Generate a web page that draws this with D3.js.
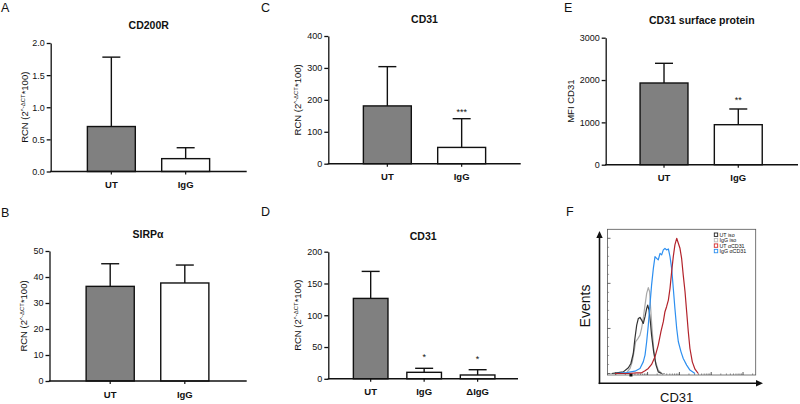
<!DOCTYPE html>
<html><head><meta charset="utf-8">
<script src="https://cdn.jsdelivr.net/npm/d3@7"></script>
<style>
html,body{margin:0;padding:0;background:#fff;}
svg{display:block;}
text{font-family:"Liberation Sans",Arial,sans-serif;fill:#111;}
</style></head>
<body>
<svg id="chart" width="800" height="404"></svg>
<script>
// ---------------- DATA ----------------
const catsA = ["UT", "IgG"];
const meanA = [0.70, 0.20];
const sdA = [1.08, 0.17];
const ticksA = [0, 0.5, 1.0, 1.5, 2.0];

const catsB = ["UT", "IgG"];
const meanB = [36.4, 37.7];
const sdB = [8.7, 6.9];
const ticksB = [0, 10, 20, 30, 40, 50];

const catsC = ["UT", "IgG"];
const meanC = [181, 51];
const sdC = [123, 90];
const starsC = ["", "***"];
const ticksC = [0, 100, 200, 300, 400];

const catsD = ["UT", "IgG", "\u0394IgG"];
const meanD = [126.5, 10.2, 6.0];
const sdD = [42.5, 6.3, 8.3];
const starsD = ["", "*", "*"];
const ticksD = [0, 50, 100, 150, 200];

const catsE = ["UT", "IgG"];
const meanE = [1930, 945];
const sdE = [465, 371];
const starsE = ["", "**"];
const ticksE = [0, 1000, 2000, 3000];

// Flow histograms (x: channel 0-100, y: % of max)
const histUTiso = [[2.2,0],[10.1,1.2],[13.5,4.2],[15.2,7.4],[16.8,14.8],[17.9,25.9],[19.1,35.8],[20.2,40.7],[21.3,41.5],[22.4,39.5],[23.5,37.0],[24.7,42.0],[25.8,48.1],[26.5,50.6],[27.4,46.9],[28.3,38.3],[29.1,28.4],[30.5,16.0],[32.1,6.2],[33.6,1.2],[35.9,0]];
const histIgGiso = [[3.4,0],[12.3,0.7],[14.6,3.7],[16.1,8.6],[17.5,17.3],[18.4,23.5],[19.7,25.4],[21.3,28.4],[22.4,33.3],[23.5,40.7],[24.7,50.6],[25.8,59.3],[26.9,63.5],[27.8,60.5],[28.5,48.1],[29.4,33.3],[30.5,18.5],[31.8,8.6],[33.6,2.5],[35.9,0],[38.1,0]];
const histIgGCD31 = [[4.5,0],[12.3,0.7],[17.9,1.7],[21.3,3.7],[23.5,8.6],[24.7,13.6],[25.8,23.5],[26.9,35.8],[28.0,50.6],[29.1,65.4],[30.3,77.8],[31.4,86.4],[32.5,85.2],[33.6,84.0],[34.8,88.9],[35.9,87.7],[37.0,91.4],[38.1,92.6],[39.2,91.4],[40.4,92.1],[41.5,86.4],[42.6,77.8],[43.7,63.0],[44.8,48.1],[46.0,33.3],[47.1,23.5],[48.9,16.0],[50.4,11.1],[52.7,6.2],[54.9,2.5],[58.3,0]];
const histUTCD31 = [[4.5,0],[13.5,0],[19.1,0.5],[22.4,0.5],[24.7,2.0],[26.9,3.7],[29.1,6.7],[31.4,12.3],[33.6,21.0],[35.4,30.9],[37.0,38.3],[38.1,45.7],[39.2,49.4],[40.4,54.3],[41.5,63.0],[42.6,75.3],[43.7,86.4],[44.8,95.1],[46.0,100],[47.1,96.3],[48.2,92.6],[49.3,85.2],[50.4,72.8],[51.6,60.5],[52.7,45.7],[53.8,30.9],[54.9,18.5],[56.5,8.6],[58.3,3.2],[60.5,0]];
const legendLabels = ["UT iso", "IgG iso", "UT \u03b1CD31", "IgG \u03b1CD31"];
const fDecades = [1, 10, 100, 1000, 10000];
const fYTicks = [0, 33.33, 66.67, 100];

// ---------------- DRAW ----------------
const svg = d3.select("#chart");
const barFills = ["#808080", "#ffffff", "#ffffff"];

function barPanel(cfg) {
  const g = svg.append("g");
  const y = d3.scaleLinear().domain([cfg.ticks[0], cfg.ticks[cfg.ticks.length - 1]]).range([cfg.y0, cfg.yTop]);
  const x = d3.scaleBand().domain(cfg.cats).range(cfg.band).paddingInner(cfg.pi).paddingOuter(cfg.po);

  // bars
  g.selectAll("rect.bar").data(cfg.cats).join("rect")
    .attr("x", d => x(d)).attr("width", x.bandwidth())
    .attr("y", (d, i) => y(cfg.mean[i])).attr("height", (d, i) => y(0) - y(cfg.mean[i]))
    .attr("fill", (d, i) => barFills[i]).attr("stroke", "#111").attr("stroke-width", 1.4);

  // error bars
  const cap = 9;
  cfg.cats.forEach((c, i) => {
    const cx = x(c) + x.bandwidth() / 2;
    const top = y(cfg.mean[i] + cfg.sd[i]);
    g.append("line").attr("x1", cx).attr("x2", cx).attr("y1", y(cfg.mean[i])).attr("y2", top)
      .attr("stroke", "#111").attr("stroke-width", 1.4);
    g.append("line").attr("x1", cx - cap).attr("x2", cx + cap).attr("y1", top).attr("y2", top)
      .attr("stroke", "#111").attr("stroke-width", 1.4);
    if (cfg.stars && cfg.stars[i]) {
      g.append("text").attr("x", cx).attr("y", top - cfg.starOff)
        .attr("text-anchor", "middle").attr("font-size", 9).text(cfg.stars[i]);
    }
  });

  // y axis
  const ya = g.append("g").attr("transform", `translate(${cfg.axisX},0)`)
    .call(d3.axisLeft(y).tickValues(cfg.ticks).tickFormat(cfg.fmt).tickSize(4).tickSizeOuter(0).tickPadding(2));
  ya.selectAll("path,line").attr("stroke", "#111").attr("stroke-width", 1.3);
  ya.selectAll("text").attr("font-size", 9).attr("font-family", "Liberation Sans, Arial, sans-serif").attr("fill", "#222");

  // x axis
  g.append("line").attr("x1", cfg.axisX - 0.6).attr("x2", cfg.xEnd).attr("y1", cfg.y0).attr("y2", cfg.y0)
    .attr("stroke", "#111").attr("stroke-width", 1.4);
  const xa = g.append("g").attr("transform", `translate(0,${cfg.y0})`)
    .call(d3.axisBottom(x).tickSize(3).tickSizeOuter(0));
  xa.select("path").remove();
  xa.selectAll("line").attr("stroke", "#111").attr("stroke-width", 1.2);
  xa.selectAll("text").attr("y", 16.5).attr("dy", 0).attr("font-size", 9.5).attr("font-weight", "bold")
    .attr("font-family", "Liberation Sans, Arial, sans-serif").attr("fill", "#111");

  // title
  g.append("text").attr("x", (cfg.axisX + cfg.xEnd) / 2).attr("y", cfg.titleY)
    .attr("text-anchor", "middle").attr("font-size", 10.5).attr("font-weight", "bold").text(cfg.title);

  // y label
  const yl = g.append("text")
    .attr("transform", `translate(${cfg.ylabX},${(cfg.y0 + cfg.yTop) / 2}) rotate(-90)`)
    .attr("text-anchor", "middle").attr("font-size", 9.5).attr("fill", "#222");
  if (cfg.ylab === "RCN") {
    yl.append("tspan").text("RCN (2");
    yl.append("tspan").attr("font-size", 6).attr("dy", -3.5).text("^-\u0394CT");
    yl.append("tspan").attr("dy", 3.5).text("*100)");
  } else {
    yl.text(cfg.ylab);
  }

  // panel letter
  svg.append("text").attr("x", cfg.letterX).attr("y", cfg.letterY)
    .attr("font-family", "Open Sans, sans-serif").attr("font-size", 12.5).attr("fill", "#222").text(cfg.letter);
}

barPanel({cats: catsA, mean: meanA, sd: sdA, ticks: ticksA, fmt: d3.format(".1f"),
  axisX: 50.7, y0: 171.5, yTop: 43, xEnd: 246.7, band: [74, 223], pi: 0.355, po: 0.18,
  title: "CD200R", titleY: 29, ylab: "RCN", ylabX: 28, letter: "A", letterX: 1, letterY: 12});
barPanel({cats: catsB, mean: meanB, sd: sdB, ticks: ticksB, fmt: d3.format("d"),
  axisX: 49.5, y0: 381, yTop: 251, xEnd: 246.7, band: [72.7, 222.3], pi: 0.355, po: 0.18,
  title: "SIRP\u03b1", titleY: 238, ylab: "RCN", ylabX: 27, letter: "B", letterX: 1, letterY: 217});
barPanel({cats: catsC, mean: meanC, sd: sdC, ticks: ticksC, fmt: d3.format("d"), stars: starsC, starOff: 4,
  axisX: 328.3, y0: 163.7, yTop: 36, xEnd: 520.7, band: [350, 499], pi: 0.355, po: 0.18,
  title: "CD31", titleY: 23, ylab: "RCN", ylabX: 301, letter: "C", letterX: 261, letterY: 12});
barPanel({cats: catsD, mean: meanD, sd: sdD, ticks: ticksD, fmt: d3.format("d"), stars: starsD, starOff: 8,
  axisX: 328.3, y0: 378.8, yTop: 251.7, xEnd: 518, band: [340, 508.3], pi: 0.353, po: 0.25,
  title: "CD31", titleY: 240, ylab: "RCN", ylabX: 301, letter: "D", letterX: 261, letterY: 216});
barPanel({cats: catsE, mean: meanE, sd: sdE, ticks: ticksE, fmt: d3.format("d"), stars: starsE, starOff: 6,
  axisX: 605.7, y0: 164.7, yTop: 37.7, xEnd: 798, band: [626.7, 775.6], pi: 0.355, po: 0.18,
  title: "CD31 surface protein", titleY: 24, ylab: "MFI CD31", ylabX: 574, letter: "E", letterX: 564, letterY: 12});

// ---------------- Panel F ----------------
(function () {
  const g = svg.append("g");
  const frame = {x0: 607.5, x1: 755.7, y0: 229.3, y1: 375};
  const x = d3.scaleLinear().domain([0, 100]).range([608.3, 757]);
  const y = d3.scaleLinear().domain([0, 100]).range([373.5, 238.3]);
  const xLog = d3.scaleLog().domain([0.55, 25000]).range([frame.x0, frame.x1]);

  g.append("rect").attr("x", frame.x0).attr("y", frame.y0)
    .attr("width", frame.x1 - frame.x0).attr("height", frame.y1 - frame.y0)
    .attr("fill", "none").attr("stroke", "#555").attr("stroke-width", 0.8);

  // y ticks (inside left)
  const yMinor = [];
  for (let i = 0; i < fYTicks.length - 1; i++) {
    for (let k = 1; k < 5; k++) yMinor.push(fYTicks[i] + (fYTicks[i + 1] - fYTicks[i]) * k / 5);
  }
  g.selectAll("line.ymaj").data(fYTicks).join("line")
    .attr("x1", frame.x0).attr("x2", frame.x0 + 3).attr("y1", d => y(d)).attr("y2", d => y(d))
    .attr("stroke", "#444").attr("stroke-width", 0.8);
  g.selectAll("line.ymin").data(yMinor).join("line")
    .attr("x1", frame.x0).attr("x2", frame.x0 + 1.6).attr("y1", d => y(d)).attr("y2", d => y(d))
    .attr("stroke", "#666").attr("stroke-width", 0.6);

  // x log ticks (inside bottom)
  const xMinor = [];
  fDecades.forEach(dv => { for (let k = 2; k < 10; k++) { const v = dv * k; if (v < 25000) xMinor.push(v); } });
  g.selectAll("line.xmaj").data(fDecades).join("line")
    .attr("x1", d => xLog(d)).attr("x2", d => xLog(d)).attr("y1", frame.y1).attr("y2", frame.y1 - 3)
    .attr("stroke", "#333").attr("stroke-width", 0.8);
  g.selectAll("line.xmin").data(xMinor).join("line")
    .attr("x1", d => xLog(d)).attr("x2", d => xLog(d)).attr("y1", frame.y1).attr("y2", frame.y1 - 1.6)
    .attr("stroke", "#555").attr("stroke-width", 0.6);
  g.append("rect").attr("x", xLog(3) - 1.5).attr("y", frame.y1 - 1.5).attr("width", 3).attr("height", 3).attr("fill", "#111");

  // histograms
  const line = d3.line().x(d => x(d[0])).y(d => y(d[1]));
  const series = [
    {data: histIgGiso, color: "#a9a9a9"},
    {data: histUTiso, color: "#333333"},
    {data: histIgGCD31, color: "#2d8ff0"},
    {data: histUTCD31, color: "#b3232b"}
  ];
  series.forEach(s => {
    g.append("path").attr("d", line(s.data)).attr("fill", "none")
      .attr("stroke", s.color).attr("stroke-width", 1.2).attr("stroke-linejoin", "round");
  });

  // legend
  const legColors = ["#222222", "#b8b8b8", "#d42a2a", "#2d8ff0"];
  legendLabels.forEach((t, i) => {
    const ly = 234.7 + i * 5.45;
    g.append("rect").attr("x", 714.3).attr("y", ly - 1.7).attr("width", 3.4).attr("height", 3.4)
      .attr("fill", "#fff").attr("stroke", legColors[i]).attr("stroke-width", 0.9);
    g.append("text").attr("x", 719.5).attr("y", ly + 1.9).attr("font-size", 5.3)
      .attr("font-family", "Open Sans, sans-serif").attr("fill", "#333").text(t);
  });

  // arrows
  const ax = 599.5, ay = 383.3;
  g.append("line").attr("x1", ax).attr("x2", ax).attr("y1", ay + 0.8).attr("y2", 236).attr("stroke", "#111").attr("stroke-width", 1.6);
  g.append("path").attr("d", `M${ax - 3.2},238 L${ax},231 L${ax + 3.2},238 Z`).attr("fill", "#111");
  g.append("line").attr("x1", ax - 0.8).attr("x2", 758).attr("y1", ay).attr("y2", ay).attr("stroke", "#111").attr("stroke-width", 1.6);
  g.append("path").attr("d", `M756,${ay - 3.2} L763,${ay} L756,${ay + 3.2} Z`).attr("fill", "#111");

  // labels
  g.append("text").attr("transform", `translate(590,306) rotate(-90)`).attr("text-anchor", "middle")
    .attr("font-size", 14).attr("fill", "#111").text("Events");
  g.append("text").attr("x", 676.7).attr("y", 402).attr("text-anchor", "middle")
    .attr("font-size", 13).attr("fill", "#111").text("CD31");
  svg.append("text").attr("x", 566).attr("y", 216)
    .attr("font-family", "Open Sans, sans-serif").attr("font-size", 12.5).attr("fill", "#222").text("F");
})();
</script>
</body></html>
